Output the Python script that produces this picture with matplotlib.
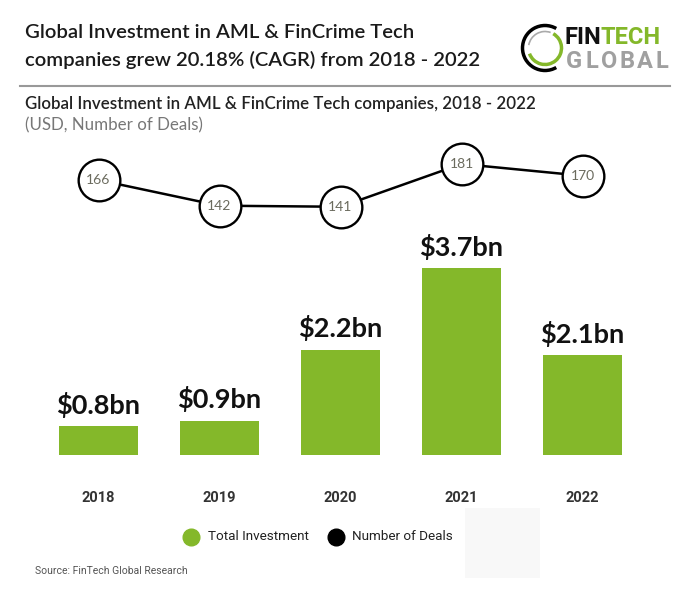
import matplotlib
matplotlib.use("Agg")
import matplotlib.pyplot as plt
from matplotlib.patches import Arc, Rectangle
from matplotlib.lines import Line2D

years = ["2018", "2019", "2020", "2021", "2022"]
investment_bn = [0.8, 0.9, 2.2, 3.7, 2.1]
deals = [166, 142, 141, 181, 170]
bar_labels = ["$0.8bn", "$0.9bn", "$2.2bn", "$3.7bn", "$2.1bn"]

GREEN = "#84b82a"
W, H = 696, 593

fig = plt.figure(figsize=(W / 100, H / 100), dpi=100)
fig.patch.set_facecolor("white")


def fx(px):
    return px / W


def fy(py):
    return 1 - py / H


# header
fig.text(fx(25), fy(32), "Global Investment in AML & FinCrime Tech",
         family="Lato", weight="semibold", fontsize=14.6, color="#1a1a1a", va="center")
fig.text(fx(25), fy(60), "companies grew 20.18% (CAGR) from 2018 - 2022",
         family="Lato", weight="semibold", fontsize=14.6, color="#1a1a1a", va="center")
fig.add_artist(Line2D([fx(20), fx(670)], [fy(86), fy(86)], color="#999999", lw=1.5))
fig.text(fx(25), fy(104), "Global Investment in AML & FinCrime Tech companies, 2018 - 2022",
         family="Lato", weight="semibold", fontsize=12.2, color="#222222", va="center")
fig.text(fx(25), fy(125), "(USD, Number of Deals)",
         family="Lato", fontsize=12.2, color="#777777", va="center")

# logo
logo = fig.add_axes([fx(515), fy(78), fx(60), 60 / H])
logo.set_xlim(-1, 1)
logo.set_ylim(-1, 1)
logo.set_aspect("equal")
logo.axis("off")
logo.add_patch(Arc((0, 0), 1.5, 1.5, theta1=60, theta2=300, color="black", lw=2.5))
logo.add_patch(Arc((0, 0), 1.1, 1.1, theta1=200, theta2=420, color=GREEN, lw=2.5))
logo.add_patch(Arc((0, 0), 1.1, 1.1, theta1=70, theta2=170, color="#aaaaaa", lw=1.2))
fin = fig.text(fx(565), fy(38), "FIN", family="Roboto", weight="bold", fontsize=17,
               color="#111111", va="center")
fig.canvas.draw()
fin_w = fin.get_window_extent().width
fig.text(fx(565 + fin_w - 1), fy(38), "TECH", family="Roboto", weight="bold",
         fontsize=17, color=GREEN, va="center")
for i, ch in enumerate("GLOBAL"):
    fig.text(fx(574 + 17.6 * i), fy(61), ch, family="Roboto", weight="bold",
             fontsize=17, color="#a0a0a0", va="center", ha="center")

# main chart
ax = fig.add_axes([fx(38), fy(455), fx(605), 315 / H])
x = range(len(years))
ax.bar(x, investment_bn, width=0.645, color=GREEN)
for i, (v, lab) in enumerate(zip(investment_bn, bar_labels)):
    ax.annotate(lab, (i, v), xytext=(0, 6), textcoords="offset points",
                ha="center", va="bottom", family="Lato", weight="bold",
                fontsize=19.5, color="#111111")
ax.set_xlim(-0.5, 4.5)
ax.set_ylim(0.268, 6.048)
ax.set_xticks(list(x))
ax.set_xticklabels(years, family="Roboto", weight="bold", fontsize=10.5, color="#333333")
ax.tick_params(axis="x", length=0, pad=26)
ax.set_yticks([])
for s in ax.spines.values():
    s.set_visible(False)

ax2 = ax.twinx()
ax2.set_ylim(-91, 203.4)
ax2.plot(x, deals, color="black", lw=1.8, marker="o", markersize=30,
         markerfacecolor="white", markeredgecolor="black", markeredgewidth=1.7)
for i, d in enumerate(deals):
    ax2.text(i, d, str(d), ha="center", va="center", family="Lato",
             fontsize=10, color="#6b6b5e")
ax2.set_yticks([])
for s in ax2.spines.values():
    s.set_visible(False)

# legend
fig.add_artist(Rectangle((fx(465), fy(578)), fx(75), 70 / H, color="#f8f8f8", lw=0))
fig.add_artist(Line2D([fx(191)], [fy(537)], marker="o", markersize=12,
                      color=GREEN, lw=0))
fig.text(fx(208), fy(537), "Total Investment", family="Roboto", fontsize=9.7,
         color="#222222", va="center")
fig.add_artist(Line2D([fx(336)], [fy(537)], marker="o", markersize=12,
                      color="black", lw=0))
fig.text(fx(352), fy(537), "Number of Deals", family="Roboto", fontsize=9.7,
         color="#222222", va="center")

fig.text(fx(35), fy(571), "Source: FinTech Global Research", family="Roboto",
         fontsize=7.5, color="#555555", va="center")

fig.savefig("out.png", dpi=100, facecolor="white")
